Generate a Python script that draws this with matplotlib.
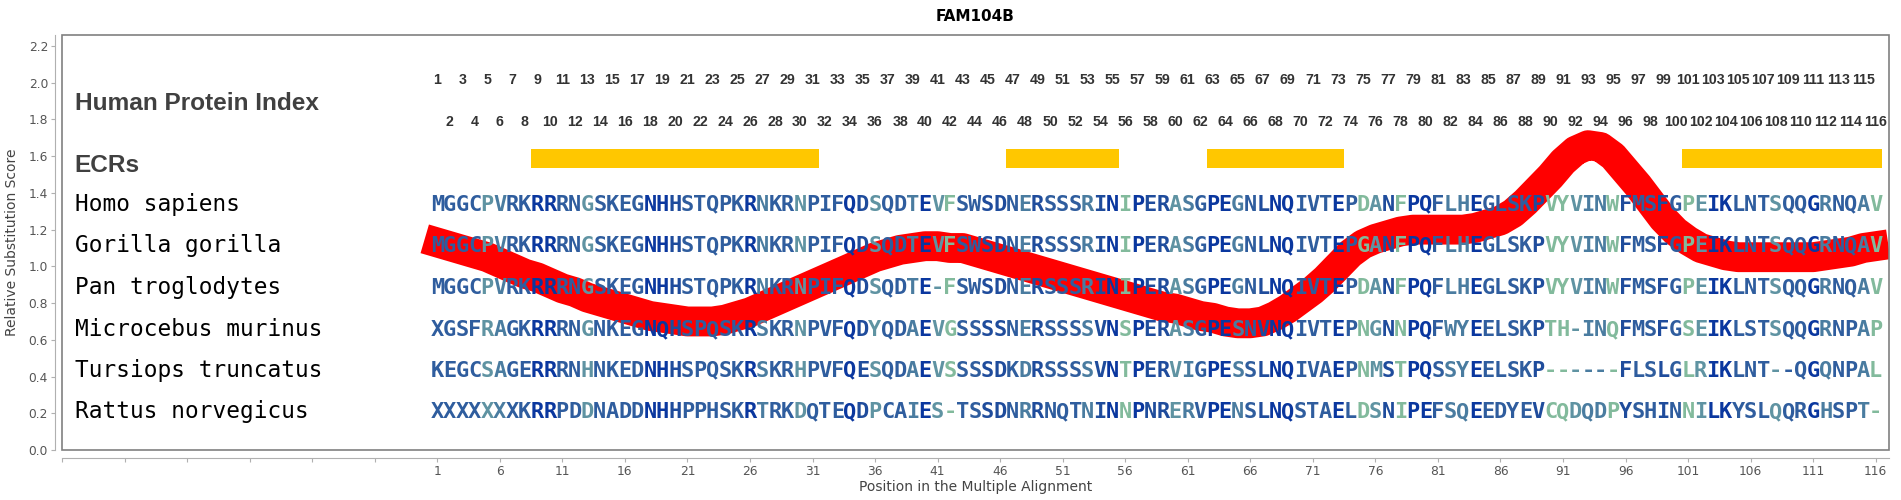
import matplotlib
matplotlib.use("Agg")
import matplotlib.pyplot as plt
from matplotlib.patches import Rectangle

# ---- data ----
species = ["Homo sapiens", "Gorilla gorilla", "Pan troglodytes",
           "Microcebus murinus", "Tursiops truncatus", "Rattus norvegicus"]
sequences = [
    "MGGCPVRKRRRNGSKEGNHHSTQPKRNKRNPIFQDSQDTEVFSWSDNERSSSRINIPERASGPEGNLNQIVTEPDANFPQFLHEGLSKPVYVINWFMSFGPEIKLNTSQQGRNQAV",
    "MGGCPVRKRRRNGSKEGNHHSTQPKRNKRNPIFQDSQDTEVFSWSDNERSSSRINIPERASGPEGNLNQIVTEPGANFPQFLHEGLSKPVYVINWFMSFGPEIKLNTSQQGRNQAV",
    "MGGCPVRKRRRNGSKEGNHHSTQPKRNKRNPIFQDSQDTE-FSWSDNERSSSRINIPERASGPEGNLNQIVTEPDANFPQFLHEGLSKPVYVINWFMSFGPEIKLNTSQQGRNQAV",
    "XGSFRAGKRRRNGNKEGNQHSPQSKRSKRNPVFQDYQDAEVGSSSSNERSSSSVNSPERASGPESNVNQIVTEPNGNNPQFWYEELSKPTH-INQFMSFGSEIKLSTSQQGRNPAP",
    "KEGCSAGERRRNHNKEDNHHSPQSKRSKRHPVFQESQDAEVSSSSDKDRSSSSVNTPERVIGPESSLNQIVAEPNMSTPQSSYEELSKP------FLSLGLRIKLNT--QGQNPAL",
    "XXXXXXXKRRPDDNADDNHHPPHSKRTRKDQTEQDPCAIES-TSSDNRRNQTNINNPNRERVPENSLNQSTAELDSNIPEFSQEEDYEVCQDQDPYSHINNILKYSLQQRGHSPT-",
]
# conservation shade per alignment column (0 = darkest blue ... 5 = light green)
col_shade = [2, 2, 2, 2, 4, 3, 2, 2, 0, 0, 2, 2, 4, 2, 2, 2, 2, 0, 0, 1,
             2, 2, 2, 2, 2, 0, 3, 2, 2, 4, 2, 2, 2, 0, 1, 4, 2, 2, 3, 0,
             4, 5, 2, 2, 1, 1, 2, 3, 1, 2, 2, 2, 3, 1, 0, 5, 0, 1, 1, 4,
             3, 2, 0, 0, 3, 2, 1, 0, 0, 2, 2, 2, 0, 2, 5, 4, 1, 5, 0, 0,
             2, 3, 3, 0, 2, 2, 2, 2, 1, 5, 5, 4, 3, 3, 5, 1, 2, 2, 1, 2,
             5, 4, 0, 0, 2, 2, 2, 4, 2, 2, 0, 3, 2, 2, 3, 5]
ecr_ranges = [(9, 31), (47, 55), (63, 73), (101, 116)]
score_pos = list(range(0, 118))
score_val = [1.15, 1.13, 1.11, 1.09, 1.07, 1.05, 1.02, 0.99, 0.96, 0.94,
             0.91, 0.88, 0.86, 0.83, 0.81, 0.79, 0.77, 0.75, 0.73, 0.72,
             0.71, 0.70, 0.70, 0.70, 0.71, 0.73, 0.75, 0.78, 0.81, 0.84,
             0.87, 0.90, 0.93, 0.96, 0.99, 1.02, 1.05, 1.07, 1.09, 1.10,
             1.11, 1.11, 1.10, 1.10, 1.08, 1.06, 1.04, 1.02, 1.00, 0.98,
             0.96, 0.94, 0.92, 0.90, 0.88, 0.86, 0.84, 0.82, 0.80, 0.78,
             0.77, 0.75, 0.73, 0.72, 0.70, 0.69, 0.69, 0.70, 0.73, 0.77,
             0.82, 0.87, 0.93, 1.00, 1.07, 1.12, 1.15, 1.17, 1.19, 1.20,
             1.20, 1.20, 1.20, 1.20, 1.21, 1.23, 1.25, 1.29, 1.35, 1.42,
             1.49, 1.57, 1.63, 1.66, 1.65, 1.60, 1.52, 1.44, 1.35, 1.26,
             1.19, 1.14, 1.10, 1.08, 1.06, 1.05, 1.05, 1.05, 1.05, 1.05,
             1.05, 1.05, 1.06, 1.07, 1.08, 1.10, 1.11, 1.12]
x_ticks = list(range(-29, 117, 5))
y_ticks = [round(0.2 * i, 1) for i in range(12)]

shade_colors = ["#0a379f", "#1f4c9c", "#2f5d9e", "#4a7ca0", "#5f93a2", "#82ba9c"]
row_base = [1.303, 1.077, 0.848, 0.621, 0.399, 0.173]

fig = plt.figure(figsize=(19.01, 5.0), dpi=100)
ax = fig.add_axes([62 / 1901, 50 / 500, 1827 / 1901, 415 / 500])
ax.set_xlim(-29, 117.06)
ax.set_ylim(0, 2.26)

for side in ("top", "right"):
    ax.spines[side].set_visible(False)
ax.spines["left"].set_position(("outward", 5))
ax.spines["bottom"].set_position(("outward", 6))
ax.spines["left"].set_color("#b0b0b0")
ax.spines["bottom"].set_color("#b0b0b0")
ax.add_patch(Rectangle((0, 0), 1, 1, transform=ax.transAxes, fill=False,
                       edgecolor="#808080", linewidth=1.2, zorder=5, clip_on=False))

ax.set_yticks(y_ticks)
ax.set_yticklabels([f"{v:.1f}" for v in y_ticks])
ax.set_xticks(x_ticks)
ax.set_xticklabels([str(v) if v >= 1 else "" for v in x_ticks])
ax.tick_params(colors="#b0b0b0", labelcolor="#555555", labelsize=8.8, length=3, pad=2)
ax.set_xlabel("Position in the Multiple Alignment", fontsize=10, color="#444444", labelpad=1)
ax.set_ylabel("Relative Substitution Score", fontsize=10, color="#444444", labelpad=7)
ax.set_title("FAM104B", fontsize=11, fontweight="bold", pad=10)

# substitution score curve
ax.plot(score_pos, score_val, color="#ff0000", linewidth=21.5,
        solid_capstyle="butt", solid_joinstyle="round", zorder=1)

# ECR bars
for start, end in ecr_ranges:
    ax.add_patch(Rectangle((start - 0.5, 1.533), end - start + 1, 0.107,
                           facecolor="#ffc700", edgecolor="none", zorder=2))

# row labels
ax.text(-28, 1.852, "Human Protein Index", fontsize=17.6, fontweight="bold",
        color="#404040", family=["Liberation Sans", "DejaVu Sans"], va="baseline", zorder=4)
ax.text(-28, 1.516, "ECRs", fontsize=17.6, fontweight="bold",
        color="#404040", family=["Liberation Sans", "DejaVu Sans"], va="baseline", zorder=4)
for name, yb in zip(species, row_base):
    ax.text(-28, yb, name, fontsize=16.4, family="DejaVu Sans Mono",
            color="black", va="baseline", zorder=4)

# human protein index numbers
for i in range(1, 117):
    yy = 2.015 if i % 2 else 1.784
    ax.text(i, yy, str(i), fontsize=10.2, fontweight="bold", color="#333333",
            family=["Liberation Sans", "DejaVu Sans"], ha="center", va="center", zorder=4)

# alignment letters
for seq, yb in zip(sequences, row_base):
    for j, ch in enumerate(seq):
        ax.text(j + 1, yb, ch, fontsize=15.8, fontweight="bold", family="DejaVu Sans Mono",
                color=shade_colors[col_shade[j]], ha="center", va="baseline", zorder=4)

fig.savefig("out.png", dpi=100)
